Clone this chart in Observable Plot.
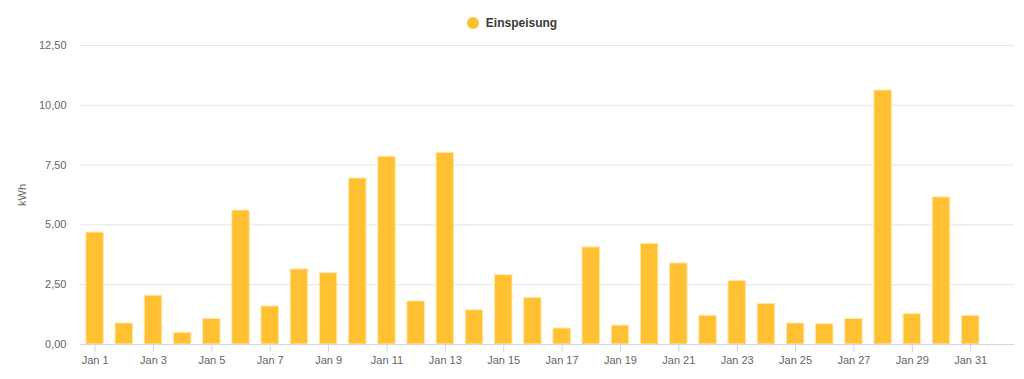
<!DOCTYPE html>
<html>
<head>
<meta charset="utf-8">
<script src="https://cdn.jsdelivr.net/npm/d3@7"></script>
<script src="https://cdn.jsdelivr.net/npm/@observablehq/plot@0.6"></script>
<style>
  html, body { margin: 0; padding: 0; background: #fff; }
  body { width: 1024px; height: 379px; overflow: hidden; font-family: "Liberation Sans", Arial, sans-serif; }
  #legend { height: 40px; display: flex; align-items: center; justify-content: center; padding-top: 5px; box-sizing: border-box; font-size: 12px; font-weight: bold; color: #3a3a3a; }
  #legend .dot { width: 12px; height: 12px; border-radius: 50%; margin-right: 7px; margin-left: 0px; }
  #chart svg { display: block; }
</style>
</head>
<body>
<div id="legend"></div>
<div id="chart"></div>
<script>
const seriesName = "Einspeisung";
const barColor = "#ffc132";
const days = ["Jan 1","Jan 2","Jan 3","Jan 4","Jan 5","Jan 6","Jan 7","Jan 8","Jan 9","Jan 10",
  "Jan 11","Jan 12","Jan 13","Jan 14","Jan 15","Jan 16","Jan 17","Jan 18","Jan 19","Jan 20",
  "Jan 21","Jan 22","Jan 23","Jan 24","Jan 25","Jan 26","Jan 27","Jan 28","Jan 29","Jan 30","Jan 31"];
const axisDays = [...days, "Feb 1"];
const values = [4.68, 0.88, 2.04, 0.49, 1.07, 5.60, 1.59, 3.14, 2.98, 6.94,
  7.85, 1.80, 8.01, 1.43, 2.90, 1.95, 0.67, 4.06, 0.79, 4.21,
  3.39, 1.20, 2.65, 1.70, 0.88, 0.85, 1.07, 10.62, 1.27, 6.15, 1.20];
const xTickLabels = days.filter((d, i) => i % 2 === 0);
const yTicks = [0, 2.5, 5, 7.5, 10, 12.5];
const yLabel = "kWh";

const data = days.map((d, i) => ({day: d, value: values[i]}));
const fmt = v => d3.format(".2f")(v).replace(".", ",");

document.getElementById("legend").innerHTML =
  `<span class="dot" style="background:${barColor}"></span><span>${seriesName}</span>`;

const chart = Plot.plot({
  width: 1024,
  height: 339,
  marginTop: 5,
  marginBottom: 35,
  marginLeft: 80,
  marginRight: 10,
  style: {fontFamily: "Liberation Sans, Arial, sans-serif", fontSize: "11px", color: "#666", background: "#fff"},
  x: {type: "band", domain: axisDays, paddingInner: 0.4, paddingOuter: 0.2, align: 0.5, round: false},
  y: {domain: [0, 12.5]},
  marks: [
    Plot.gridY(yTicks.filter(t => t > 0), {stroke: "#e6e6e6", strokeOpacity: 1}),
    Plot.barY(data, {x: "day", y: "value", fill: barColor, stroke: "#ffe9b0", strokeWidth: 1, inset: 0}),
    Plot.ruleY([0], {stroke: "#ccd6eb", strokeWidth: 1}),
    Plot.axisX(xTickLabels, {tickSize: 8, tickPadding: 4, stroke: "#ccd6eb", fill: "#666", label: null, fontSize: 11}),
    Plot.axisY(yTicks, {tickSize: 0, tickPadding: 14, tickFormat: fmt, fill: "#666", fontSize: 11,
      label: yLabel, labelAnchor: "center", labelArrow: "none", labelOffset: 62})
  ]
});
document.getElementById("chart").appendChild(chart);
</script>
</body>
</html>
